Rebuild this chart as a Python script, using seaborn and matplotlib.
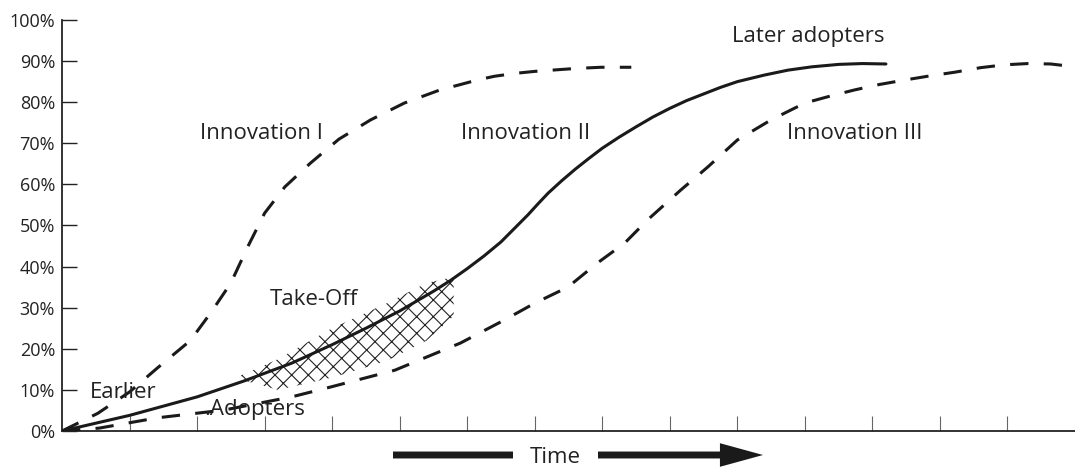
import matplotlib.pyplot as plt
import pandas as pd
import seaborn as sns

sns.set_style("white")
plt.rcParams['font.family'] = ['Open Sans', 'DejaVu Sans']
plt.rcParams['hatch.linewidth'] = 0.8

# adoption curves (x = time in tick units, y = % adopted)
innov1_x = [0, 0.53, 1.0, 1.41, 1.9, 2.2, 2.5, 2.75, 3.0, 3.3, 3.68, 4.1, 4.57, 5.07, 5.6,
            5.9, 6.15, 6.4, 6.7, 7.0, 7.34, 7.6, 7.98, 8.43]
innov1_y = [0, 4.3, 9.5, 15.3, 22, 28.7, 36, 44.8, 53, 59.4, 65.2, 71, 75.7, 79.8, 83,
            84.3, 85.4, 86.3, 87, 87.5, 87.9, 88.2, 88.5, 88.5]

innov2_x = [0, 1.0, 2.0, 2.7, 3.4, 4.0, 4.5, 5.0, 5.5, 5.75, 6.0, 6.25, 6.5, 6.7, 6.9, 7.05,
            7.2, 7.4, 7.6, 7.8, 8.0, 8.25, 8.5, 8.75, 9.0, 9.25, 9.5, 9.75, 10.0, 10.4,
            10.75, 11.1, 11.5, 11.85, 12.2]
innov2_y = [0, 3.8, 8.3, 12.2, 16.5, 21, 25, 29.2, 34, 36.6, 39.5, 42.6, 46, 49.3, 52.6, 55.3,
            57.9, 60.9, 63.7, 66.3, 68.8, 71.5, 74, 76.4, 78.5, 80.4, 82, 83.6, 85, 86.6,
            87.8, 88.6, 89.2, 89.4, 89.3]

innov3_x = [0, 0.55, 1.41, 2.4, 3.4, 3.93, 4.93, 5.9, 6.55, 7.0, 7.49, 7.93, 8.33, 8.68, 9.16,
            9.56, 10.0, 10.5, 11.0, 11.4, 11.74, 12.1, 12.48, 12.85, 13.22, 13.6, 13.96,
            14.3, 14.64, 14.9]
innov3_y = [0, 0.7, 3.2, 5.1, 8.3, 10.5, 14.8, 21.4, 27, 31.1, 35, 40.9, 45.7, 51.5, 58.6,
            64.2, 70.8, 75.7, 79.8, 81.6, 83, 84.3, 85.4, 86.4, 87.3, 88.4, 89.1,
            89.4, 89.3, 88.8]

# take-off zone (hatched band)
hatch_x = [2.65, 3.2, 4.0, 4.8, 5.4, 5.8]
hatch_lo = [12.5, 10, 13, 17, 22, 28]
hatch_hi = [13.5, 17.5, 25, 31, 36, 37.5]

yticks = [0, 10, 20, 30, 40, 50, 60, 70, 80, 90, 100]
ytick_labels = [f"{v}%" for v in yticks]

df = pd.concat([
    pd.DataFrame({"time": innov1_x, "share": innov1_y, "series": "Innovation I"}),
    pd.DataFrame({"time": innov2_x, "share": innov2_y, "series": "Innovation II"}),
    pd.DataFrame({"time": innov3_x, "share": innov3_y, "series": "Innovation III"}),
], ignore_index=True)

fig, ax = plt.subplots(figsize=(10.75, 4.67), dpi=100)
fig.subplots_adjust(left=62/1075, right=1.0, bottom=36/467, top=447/467)

ax.fill_between(hatch_x, hatch_lo, hatch_hi, facecolor='none', edgecolor='#222222',
                linewidth=0, hatch='xx', zorder=1)

sns.lineplot(data=df, x="time", y="share", style="series",
             dashes={"Innovation I": (6, 5), "Innovation II": "", "Innovation III": (6, 5)},
             color='#1a1a1a', linewidth=2.2, estimator=None, sort=False,
             legend=False, ax=ax, zorder=3)

ax.set_xlim(0, 15)
ax.set_ylim(0, 100)
ax.set_xticks(range(1, 15))
ax.set_xticklabels([])
ax.set_yticks(yticks)
ax.set_yticklabels(ytick_labels)
ax.set_xlabel("")
ax.set_ylabel("")
ax.tick_params(axis='x', direction='in', length=11, width=0.8, color='#666666', bottom=True)
ax.tick_params(axis='y', direction='in', length=11, width=1, color='#222222',
               labelsize=13, pad=5, left=True, labelcolor='#222222')
sns.despine(ax=ax)
for s in ['left', 'bottom']:
    ax.spines[s].set_linewidth(1.3)
    ax.spines[s].set_color('#222222')

txt = dict(fontsize=16, color='#222222', ha='center', va='baseline')
ax.text(2.96, 71, "Innovation I", **txt)
ax.text(6.87, 71, "Innovation II", **txt)
ax.text(11.74, 71, "Innovation III", **txt)
ax.text(11.05, 94.6, "Later adopters", **txt)
ax.text(3.73, 30.7, "Take-Off", **txt)
ax.text(0.91, 8.0, "Earlier", **txt)
ax.text(2.85, 3.9, ".Adopters", **txt)

# time arrow under the axis
ax.annotate('', xy=(513, 12), xytext=(393, 12), xycoords='figure pixels',
            arrowprops=dict(arrowstyle='-', lw=5, color='#1a1a1a', shrinkA=0, shrinkB=0,
                            capstyle='butt'))
ax.annotate('', xy=(763, 12), xytext=(598, 12), xycoords='figure pixels',
            arrowprops=dict(arrowstyle='simple,head_length=31,head_width=17,tail_width=5',
                            mutation_scale=1, lw=0, color='#1a1a1a', shrinkA=0, shrinkB=0))
fig.text(555/1075, 4/467, "Time", fontsize=16, color='#222222', ha='center', va='baseline')

fig.savefig("out.png", dpi=100)
